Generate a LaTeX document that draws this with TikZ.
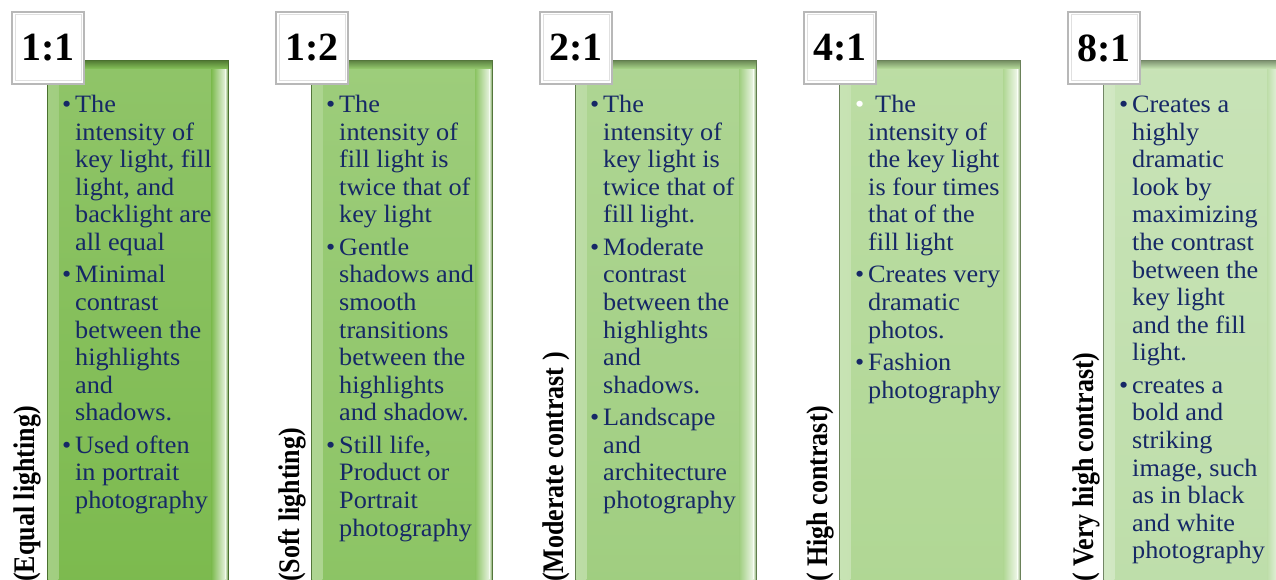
\documentclass[tikz,border=0pt]{standalone}
\usepackage{fontspec}
\setmainfont{Liberation Serif}
\newfontfamily\bodyfont[FakeStretch=1.05]{Liberation Serif}
\definecolor{navytext}{RGB}{22,40,102}
\definecolor{gA}{RGB}{124,186,78}
\definecolor{gB}{RGB}{140,196,100}
\definecolor{gC}{RGB}{160,206,128}
\definecolor{gD}{RGB}{176,215,148}
\definecolor{gE}{RGB}{190,222,170}
\newcommand\bl{\makebox[13pt][l]{\textcolor{navytext}{•}}}
\newcommand\wbl{\makebox[13pt][l]{\textcolor{white}{•}}}
\newcommand\gap{\\[4.8pt]}
\tikzset{
  panelbox/.style={draw=#1!60!black, line width=0.6pt, minimum width=181pt,
    minimum height=530pt, anchor=north west, inner sep=0pt,
    top color=#1!85!white, bottom color=#1,
    path picture={
      \shade[left color=#1!70!white, right color=#1]
        ([xshift=1pt]path picture bounding box.north west) rectangle
        ([xshift=11pt]path picture bounding box.south west);
      \shade[left color=#1, right color=#1!20!white]
        ([xshift=-17pt]path picture bounding box.north east) rectangle
        ([xshift=-3pt]path picture bounding box.south east);
      \shade[left color=#1!20!white, right color=#1!80!black]
        ([xshift=-3pt]path picture bounding box.north east) rectangle
        (path picture bounding box.south east);
      \shade[top color=#1!65!black, bottom color=#1!95!white]
        (path picture bounding box.north west) rectangle
        ([yshift=-8pt]path picture bounding box.north east);
    }},
  titlebox/.style={fill=white, draw=black!28, line width=1.4pt,
    minimum width=72pt, minimum height=72pt, inner sep=0pt,
    font=\fontsize{40}{40}\selectfont\bfseries,
    path picture={
      \draw[black!12, line width=1pt]
        ([xshift=3pt,yshift=-3pt]path picture bounding box.north west) rectangle
        ([xshift=-3pt,yshift=3pt]path picture bounding box.south east);
    }},
  bodytext/.style={anchor=base west, inner sep=0pt, text=navytext,
    font=\bodyfont\fontsize{25}{27.6}\selectfont},
  sidelabel/.style={rotate=90, yscale=1.15, anchor=base west, inner sep=0pt,
    font=\fontsize{26}{26}\selectfont\bfseries, text=black}
}
\begin{document}
\begin{tikzpicture}[x=1pt,y=-1pt]
\useasboundingbox (0,0) rectangle (1276,580);
\clip (0,0) rectangle (1276,580);
\fill[white] (0,0) rectangle (1276,580);

% panels
\node[panelbox=gA] (p1) at (47,60) {};
\node[panelbox=gB] (p2) at (311,60) {};
\node[panelbox=gC] (p3) at (575,60) {};
\node[panelbox=gD] (p4) at (839,60) {};
\node[panelbox=gE] (p5) at (1103,60) {};

% body text
\node[bodytext] (b1) at (62,112.5) {\begin{tabular}[t]{@{}l@{}l@{}}
\bl & The\\ & intensity of\\ & key light, fill\\ & light, and\\ & backlight are\\ & all equal\gap
\bl & Minimal\\ & contrast\\ & between the\\ & highlights\\ & and\\ & shadows.\gap
\bl & Used often\\ & in portrait\\ & photography
\end{tabular}};

\node[bodytext] (b2) at (326,112.5) {\begin{tabular}[t]{@{}l@{}l@{}}
\bl & The\\ & intensity of\\ & fill light is\\ & twice that of\\ & key light\gap
\bl & Gentle\\ & shadows and\\ & smooth\\ & transitions\\ & between the\\ & highlights\\ & and shadow.\gap
\bl & Still life,\\ & Product or\\ & Portrait\\ & photography
\end{tabular}};

\node[bodytext] (b3) at (590,112.5) {\begin{tabular}[t]{@{}l@{}l@{}}
\bl & The\\ & intensity of\\ & key light is\\ & twice that of\\ & fill light.\gap
\bl & Moderate\\ & contrast\\ & between the\\ & highlights\\ & and\\ & shadows.\gap
\bl & Landscape\\ & and\\ & architecture\\ & photography
\end{tabular}};

\node[bodytext] (b4) at (855,112.5) {\begin{tabular}[t]{@{}l@{}l@{}}
\wbl & \hspace{7pt}The\\ & intensity of\\ & the key light\\ & is four times\\ & that of the\\ & fill light\gap
\bl & Creates very\\ & dramatic\\ & photos.\gap
\bl & Fashion\\ & photography
\end{tabular}};

\node[bodytext] (b5) at (1119,112.5) {\begin{tabular}[t]{@{}l@{}l@{}}
\bl & Creates a\\ & highly\\ & dramatic\\ & look by\\ & maximizing\\ & the contrast\\ & between the\\ & key light\\ & and the fill\\ & light.\gap
\bl & creates a\\ & bold and\\ & striking\\ & image, such\\ & as in black\\ & and white\\ & photography
\end{tabular}};

% title boxes
\node[titlebox] (t1) at (48,48) {1:1};
\node[titlebox] (t2) at (312,48) {1:2};
\node[titlebox] (t3) at (576,48) {2:1};
\node[titlebox] (t4) at (840,48) {4:1};
\node[titlebox] (t5) at (1104,48) {8:1};

% side labels
\node[sidelabel] (s1) at (34,582) {(Equal lighting)};
\node[sidelabel] (s2) at (299,582) {(Soft lighting)};
\node[sidelabel] (s3) at (563,582) {(Moderate contrast )};
\node[sidelabel] (s4) at (827,582) {( High contrast)};
\node[sidelabel] (s5) at (1093,582) {( Very high contrast)};
\end{tikzpicture}
\end{document}
